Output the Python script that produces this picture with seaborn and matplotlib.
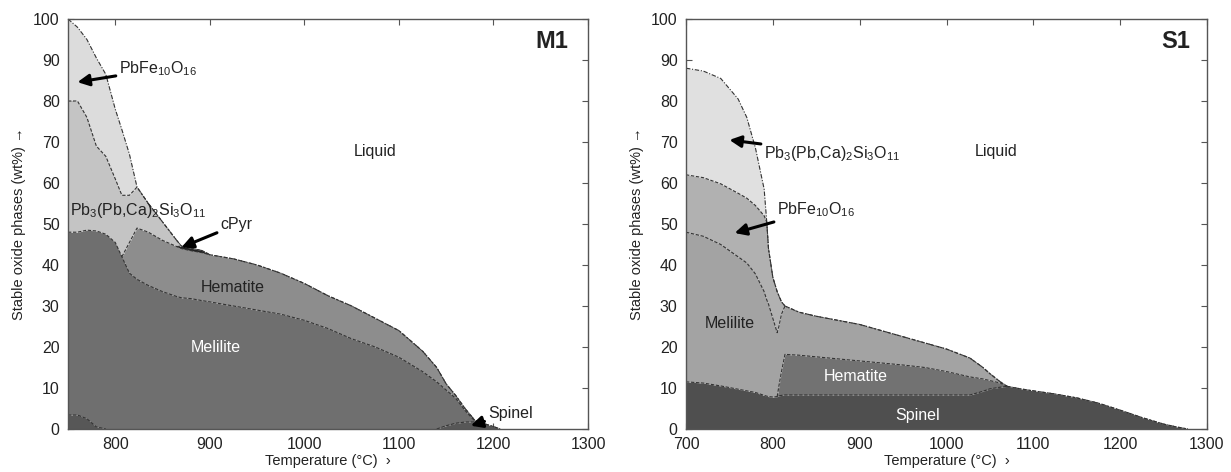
import numpy as np
import matplotlib
matplotlib.use("Agg")
import matplotlib.pyplot as plt
import seaborn as sns

# ---- M1 : phase amounts (wt%) vs temperature ----
m1_temp = [750, 760, 770, 780, 790, 800, 807, 815, 823, 835, 850, 865, 870, 880, 892, 900,
           925, 950, 975, 1000, 1025, 1050, 1075, 1100, 1125, 1140, 1150, 1160, 1170, 1180,
           1190, 1200, 1207]
m1_spinel = [3.4, 3.4, 2.5, 0.5, 0, 0, 0, 0, 0, 0, 0, 0, 0, 0, 0, 0,
             0, 0, 0, 0, 0, 0, 0, 0, 0, 0, 0.8, 1.4, 1.7, 1.7,
             1.3, 0.6, 0]
m1_melilite = [44.6, 44.6, 46.0, 47.8, 47.5, 45.5, 42, 38, 36.5, 35, 33.5, 32.3, 32, 31.8, 31.3, 31,
               30, 29, 28, 26.5, 24.5, 22, 20, 17.5, 14, 11.5, 8.7, 6.1, 2.8, 0.3,
               0, 0, 0]
m1_hematite = [0, 0, 0, 0, 0, 0, 0, 7.5, 12.5, 13, 12.5, 12.2, 12, 11.7, 11.7, 11.5,
               11.5, 11, 10, 9, 8, 8, 7, 6.5, 5, 3.5, 1.5, 0.7, 0.5, 0.2,
               0, 0, 0]
m1_cpyr = [0, 0, 0, 0, 0, 0, 0, 0, 0, 0, 0, 0, 0.6, 0.6, 0.5, 0,
           0, 0, 0, 0, 0, 0, 0, 0, 0, 0, 0, 0, 0, 0,
           0, 0, 0]
m1_pb3 = [32, 32, 27.5, 20.7, 19, 15.5, 15, 11.5, 10, 7, 4.5, 1.5, 0, 0, 0, 0,
          0, 0, 0, 0, 0, 0, 0, 0, 0, 0, 0, 0, 0, 0,
          0, 0, 0]
m1_pbfe = [20, 18, 19, 21.5, 20, 17, 16, 10, 0, 0, 0, 0, 0, 0, 0, 0,
           0, 0, 0, 0, 0, 0, 0, 0, 0, 0, 0, 0, 0, 0,
           0, 0, 0]

# ---- S1 ----
s1_temp = [700, 720, 740, 760, 770, 780, 790, 793, 795, 800, 805, 807, 810, 814, 830, 850,
           875, 900, 925, 950, 975, 1000, 1027, 1042, 1050, 1062, 1070, 1085, 1100, 1123,
           1150, 1175, 1200, 1225, 1250, 1265, 1278]
s1_spinel = [11.5, 11.2, 10.5, 9.7, 9.3, 8.9, 8.2, 8.0, 7.9, 7.8, 7.9, 8.1, 8.2, 8.3, 8.3, 8.3,
             8.3, 8.3, 8.3, 8.3, 8.3, 8.3, 8.3, 9.2, 9.8, 10.2, 10.4, 9.8, 9.3, 8.6,
             7.6, 6.3, 4.6, 2.8, 1.2, 0.5, 0]
s1_hematite = [0, 0, 0, 0, 0, 0, 0, 0, 0, 0, 0, 2.4, 5.8, 9.9, 9.7, 9.3,
               8.8, 8.3, 7.8, 7.3, 6.7, 5.7, 4.4, 3.0, 2.0, 1.0, 0, 0, 0, 0,
               0, 0, 0, 0, 0, 0, 0]
s1_melilite = [36.5, 35.8, 34.5, 32.3, 31.2, 28.9, 25.3, 23.5, 22.6, 19.2, 15.6, 14.5, 14, 11.8, 10.5, 9.9,
               9.4, 8.9, 7.9, 6.9, 6, 5.5, 4.6, 2.8, 1.7, 0.3, 0, 0, 0, 0,
               0, 0, 0, 0, 0, 0, 0]
s1_pbfe = [14, 14.3, 14.8, 15.5, 15.8, 16.7, 18.5, 19, 13.5, 10, 10, 7.5, 3, 0, 0, 0,
           0, 0, 0, 0, 0, 0, 0, 0, 0, 0, 0, 0, 0, 0,
           0, 0, 0, 0, 0, 0, 0]
s1_pb3 = [26, 26, 25.7, 23, 19.7, 14, 6.5, 0, 0, 0, 0, 0, 0, 0, 0, 0,
          0, 0, 0, 0, 0, 0, 0, 0, 0, 0, 0, 0, 0, 0,
          0, 0, 0, 0, 0, 0, 0]

PBFE = r"PbFe$_{10}$O$_{16}$"
PB3 = r"Pb$_3$(Pb,Ca)$_2$Si$_3$O$_{11}$"

sns.set_style("ticks")
plt.rcParams["font.family"] = ["Liberation Sans", "DejaVu Sans"]
plt.rcParams["mathtext.default"] = "regular"
plt.rcParams["axes.edgecolor"] = "#555555"


def draw_panel(ax, temp, layers, colors):
    temp = np.array(temp, dtype=float)
    amounts = [np.array(a, dtype=float) for a in layers]
    ax.stackplot(temp, *amounts, colors=colors, linewidth=0)
    tops = np.cumsum(amounts, axis=0)
    # inner phase boundaries, only where the phase is present
    for amt, top in zip(amounts[:-1], tops[:-1]):
        present = amt > 0
        show = present | np.roll(present, 1) | np.roll(present, -1)
        y = np.where(show, top, np.nan)
        ax.plot(temp, y, color="#333333", lw=0.8, ls=(0, (3, 1.5)))
    # liquidus
    sns.lineplot(x=temp, y=tops[-1], ax=ax, color="#333333", lw=0.8,
                 linestyle=(0, (4, 1.5, 1, 1.5)), estimator=None, sort=False)


fig = plt.figure(figsize=(12.31, 4.72), dpi=100)
ax1 = fig.add_axes([68 / 1231, 43 / 472, 520 / 1231, 410 / 472])
ax2 = fig.add_axes([686 / 1231, 43 / 472, 521 / 1231, 410 / 472])

draw_panel(ax1, m1_temp,
           [m1_spinel, m1_melilite, m1_hematite, m1_cpyr, m1_pb3, m1_pbfe],
           ["#575757", "#6f6f6f", "#8d8d8d", "#222222", "#c4c4c4", "#dcdcdc"])
draw_panel(ax2, s1_temp,
           [s1_spinel, s1_hematite, s1_melilite, s1_pbfe, s1_pb3],
           ["#4f4f4f", "#727272", "#a3a3a3", "#b1b1b1", "#e0e0e0"])

for ax, xmin in [(ax1, 750), (ax2, 700)]:
    ax.set_xlim(xmin, 1300)
    ax.set_ylim(0, 100)
    ax.set_yticks(range(0, 101, 10))
    ax.set_xticks(range(800 if xmin == 750 else 700, 1301, 100))
    ax.tick_params(direction="in", length=4, width=0.8, top=True, right=True,
                   labelsize=11.5, colors="#555555", labelcolor="#222222", pad=6)
    ax.set_xlabel("Temperature (°C)  \u203a", fontsize=10.5, labelpad=1, color="#222222")
    ax.set_ylabel("Stable oxide phases (wt%) \u2192", fontsize=10.5, labelpad=5, color="#222222")
    for s in ax.spines.values():
        s.set_linewidth(1.0)

arrow = dict(arrowstyle="-|>,head_length=0.6,head_width=0.3", color="black", lw=2.2,
             shrinkA=0, shrinkB=0)
txt = dict(fontsize=11.5, color="#222222")

# M1 labels
ax1.text(1279, 94.5, "M1", fontsize=17, fontweight="bold", ha="right", va="center", color="#222222")
ax1.text(1075, 67.6, "Liquid", ha="center", va="center", **txt)
ax1.annotate(PBFE, xy=(760, 84.6), xytext=(804, 87.8), ha="left", va="center",
             arrowprops=arrow, **txt)
ax1.text(752, 53.3, PB3, ha="left", va="center", **txt)
ax1.annotate("cPyr", xy=(870, 44.3), xytext=(911, 49.8), ha="left", va="center",
             arrowprops=arrow, **txt)
ax1.text(924, 34.6, "Hematite", ha="center", va="center", **txt)
ax1.text(906, 20, "Melilite", ha="center", va="center", fontsize=11.5, color="white")
ax1.annotate("Spinel", xy=(1176, 0.8), xytext=(1194, 3.8), ha="left", va="center",
             arrowprops=arrow, **txt)

# S1 labels
ax2.text(1281, 94.5, "S1", fontsize=17, fontweight="bold", ha="right", va="center", color="#222222")
ax2.text(1057, 67.6, "Liquid", ha="center", va="center", **txt)
ax2.annotate(PB3, xy=(750, 70.5), xytext=(790, 67.3), ha="left", va="center",
             arrowprops=arrow, **txt)
ax2.annotate(PBFE, xy=(756, 47.8), xytext=(805, 53.4), ha="left", va="center",
             arrowprops=arrow, **txt)
ax2.text(750, 25.8, "Melilite", ha="center", va="center", **txt)
ax2.text(895, 12.7, "Hematite", ha="center", va="center", fontsize=11.5, color="white")
ax2.text(967, 3.2, "Spinel", ha="center", va="center", fontsize=11.5, color="white")

fig.savefig("out.png", dpi=100)
